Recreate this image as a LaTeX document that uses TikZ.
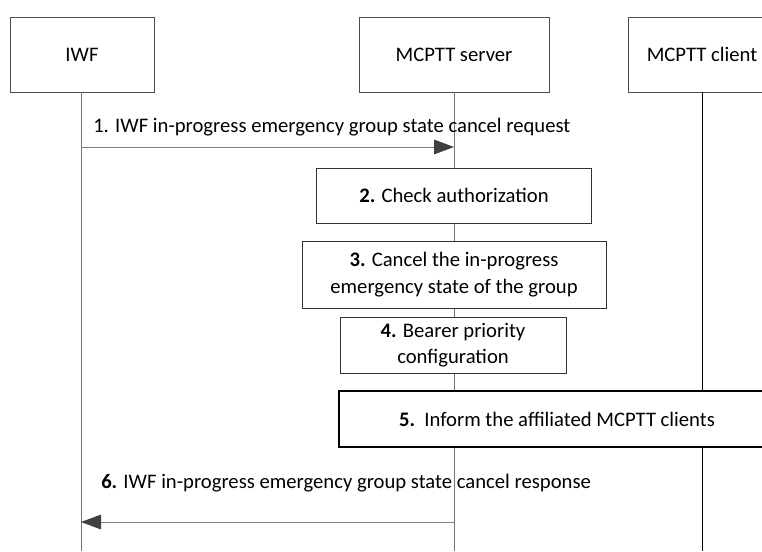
\documentclass[tikz,border=0pt]{standalone}
\usepackage{fontspec}
\setmainfont{Carlito}
\usetikzlibrary{arrows.meta, positioning}

\begin{document}
\begin{tikzpicture}[
    x=0.75pt, y=-0.75pt,
    font=\fontsize{15.5}{20}\selectfont,
    entity/.style={rectangle, draw=black!70, fill=white, minimum height=56.25pt, inner sep=0pt},
    action/.style={rectangle, draw=black!80, fill=white, align=center, inner sep=0pt},
    lifeline/.style={draw=black!55, line width=0.75pt},
    msg/.style={draw=black!50, line width=0.75pt, -{Triangle[length=15pt, width=11pt, color=black!75]}},
    msglabel/.style={anchor=west, inner sep=0pt}
]
\useasboundingbox (0,0) rectangle (762,551);
\clip (0,0) rectangle (762,551);

% Entities
\node[entity, minimum width=108pt] (iwf) at (82,54.5) {IWF};
\node[entity, minimum width=142.5pt] (server) at (454,54.5) {MCPTT server};
\node[entity, minimum width=111pt] (client) at (702,54.5) {MCPTT client};

% Lifelines
\coordinate (iwf-end) at (81,551);
\coordinate (server-end) at (454,551);
\coordinate (client-end) at (702,551);
\draw[lifeline] (iwf.south -| iwf-end) -- (iwf-end);
\draw[lifeline] (server.south) -- (server-end);
\draw[lifeline, draw=black] (client.south) -- (client-end);

% Server steps
\node[action, minimum width=206.25pt, minimum height=41.25pt] (auth) at (454,195.5) {\textbf{2.} Check authorization};
\node[action, minimum width=228pt, minimum height=50.25pt] (cancel) at (454,274.5) {\textbf{3.} Cancel the in-progress\\emergency state of the group};
\node[action, minimum width=169.5pt, minimum height=42pt] (bearer) at (453,345) {\textbf{4.} Bearer priority\\configuration};
\node[action, draw=black, line width=1.1pt, minimum width=327pt, minimum height=42pt] (inform) at (557,419) {\textbf{5.}\ \ Inform the affiliated MCPTT clients};

% Messages
\coordinate (req-from) at (81,147);
\coordinate (req-to) at (454,147);
\node[msglabel] (req) at (93,127) {1. IWF in-progress emergency group state cancel request};
\draw[msg] (req-from) -- (req-to);

\coordinate (resp-from) at (454,522);
\coordinate (resp-to) at (81,522);
\node[msglabel] (resp) at (101,483) {\textbf{6.} IWF in-progress emergency group state cancel response};
\draw[msg] (resp-from) -- (resp-to);

\end{tikzpicture}
\end{document}
